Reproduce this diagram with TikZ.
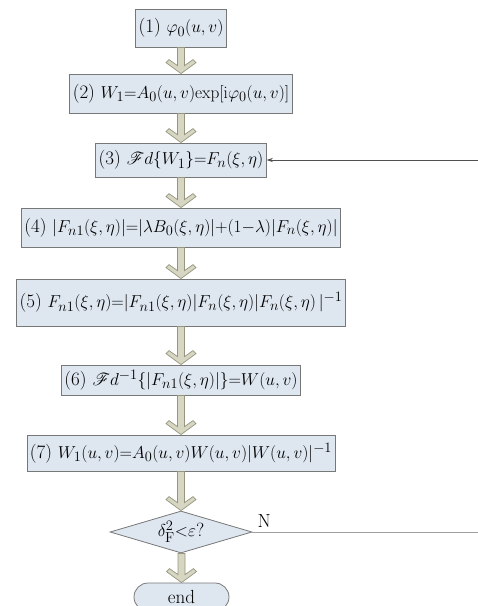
\documentclass[tikz,border=0pt]{standalone}
\usepackage{amsmath}
\usepackage{mathrsfs}
\usetikzlibrary{calc,shapes.geometric,shapes.misc,arrows.meta}
\definecolor{boxfill}{RGB}{222,230,240}
\definecolor{boxline}{RGB}{120,120,120}
\definecolor{arrfill}{RGB}{214,214,194}
\definecolor{arrline}{RGB}{150,150,128}
\definecolor{fbcol}{RGB}{80,80,80}
\definecolor{ncol}{RGB}{160,160,160}
\tikzset{
  box/.style={draw=boxline, fill=boxfill, line width=0.8pt, inner xsep=3pt, inner ysep=0pt,
    font=\fontsize{19}{22}\selectfont, anchor=center},
  blockarr/.style={draw=arrline, fill=arrfill, line width=0.7pt, line join=miter},
  fbline/.style={draw=fbcol, line width=0.7pt},
  nline/.style={draw=ncol, line width=1pt},
}
\newcommand\bigarrow[2]{%
  \path[blockarr] let \p1=(#1.south), \p2=(#2.north) in
    (\x2-3.5pt,\y1) -- (\x2-3.5pt,\y2+8pt) -- (\x2-12pt,\y2+14pt) -- (\x2-15pt,\y2+11pt) --
    (\x2,\y2) -- (\x2+15pt,\y2+11pt) -- (\x2+12pt,\y2+14pt) -- (\x2+3.5pt,\y2+8pt) --
    (\x2+3.5pt,\y1) -- cycle;}
\begin{document}
\begin{tikzpicture}[x=1pt,y=-1pt]
\useasboundingbox (0,0) rectangle (478,606);
\clip (0,0) rectangle (478,606);
\node[box, minimum height=38pt] (b1) at (181,28) {(1) $\varphi_0(u,v)$};
\node[box, minimum height=39pt] (b2) at (181,93.5) {(2) $W_1{=}A_0(u,v)\mathrm{exp}[\mathrm{i}\varphi_0(u,v)]$};
\node[box, minimum height=34pt] (b3) at (181,160) {(3) $\mathscr{F}d\{W_1\}{=}F_n(\xi,\eta)$};
\node[box, minimum height=39pt] (b4) at (181,227.5) {(4) $|F_{n1}(\xi,\eta)|{=}|\lambda B_0(\xi,\eta)|{+}(1{-}\lambda)|F_n(\xi,\eta)|$};
\node[box, minimum height=47pt] (b5) at (181,302.5) {(5) $F_{n1}(\xi,\eta){=}|F_{n1}(\xi,\eta)|F_n(\xi,\eta)|F_n(\xi,\eta)\,|^{-1}$};
\node[box, minimum height=30pt] (b6) at (181,380) {(6) $\mathscr{F}d^{-1}\{|F_{n1}(\xi,\eta)|\}{=}W(u,v)$};
\node[box, minimum height=36pt] (b7) at (181,453) {(7) $W_1(u,v){=}A_0(u,v)W(u,v)|W(u,v)|^{-1}$};
\node[box, diamond, aspect=3.4, minimum width=142pt, minimum height=42pt, inner sep=0pt] (d) at (181,532) {$\delta_{\mathrm{F}}^{2}{<}\varepsilon$?};
\node[box, rounded rectangle, minimum width=101pt, minimum height=28pt] (e) at (181.5,597) {end};
\bigarrow{b1}{b2}
\bigarrow{b2}{b3}
\bigarrow{b3}{b4}
\bigarrow{b4}{b5}
\bigarrow{b5}{b6}
\bigarrow{b6}{b7}
\bigarrow{b7}{d}
\bigarrow{d}{e}
\coordinate (fbin) at (478,160);
\draw[fbline, -{Stealth[length=6pt,width=4pt]}] (fbin) -- (b3.east);
\coordinate (nout) at (478,532);
\draw[nline] (d.east) -- (nout);
\node[font=\fontsize{19}{22}\selectfont, anchor=south west, inner sep=0pt] (nlab) at ($(d.east)+(5,-4)$) {N};
\end{tikzpicture}
\end{document}
